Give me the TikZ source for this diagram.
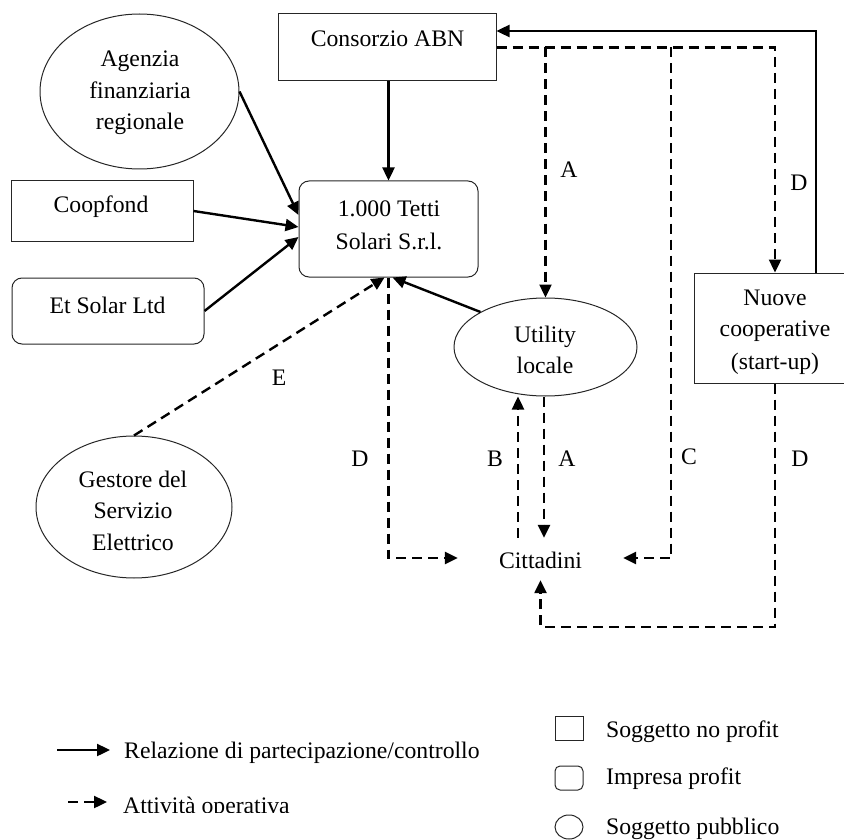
\documentclass[tikz,border=0pt]{standalone}
\usepackage{fontspec}
\setmainfont{Liberation Serif}
\usetikzlibrary{arrows.meta,shapes.geometric}
\newcommand{\mltext}[1]{\begin{tabular}[t]{@{}c@{}}#1\end{tabular}}
\begin{document}
\begin{tikzpicture}[x=1pt,y=-1pt,
  shp/.style={draw=black!85, line width=1pt, inner sep=0pt},
  nbox/.style={shp, rectangle},
  rbox/.style={shp, rectangle, rounded corners=10pt},
  ebox/.style={shp, ellipse},
  txt/.style={inner sep=0pt, anchor=base, font=\fontsize{23.7}{31.5}\selectfont},
  txtw/.style={txt, font=\fontsize{23.7}{33.5}\selectfont},
  rel/.style={line width=2.4pt, -{Triangle[length=13pt,width=12pt]}},
  op/.style={rel, dash pattern=on 10pt off 6pt},
  opline/.style={line width=2.4pt, dash pattern=on 10pt off 6pt}]
\useasboundingbox (0,0) rectangle (844,840);

% shapes
\node[nbox, minimum width=218pt, minimum height=67pt] (cons) at (387,47.5) {};
\node[rbox, minimum width=179pt, minimum height=96pt] (tetti) at (388.5,229) {};
\node[ebox, minimum width=199pt, minimum height=155pt] (agen) at (139.5,91.5) {};
\node[nbox, minimum width=182pt, minimum height=60pt] (coop) at (102,211) {};
\node[rbox, minimum width=192pt, minimum height=66pt] (etsol) at (108,311) {};
\node[ebox, minimum width=183pt, minimum height=98pt] (util) at (545.5,347) {};
\node[nbox, minimum width=162pt, minimum height=110pt] (nuove) at (775,328) {};
\node[ebox, minimum width=196pt, minimum height=142pt] (gest) at (134,507) {};

% texts
\node[txt] (consT) at (387.5,47) {Consorzio ABN};
\node[txtw] (tettiT) at (389,216) {\mltext{1.000 Tetti\\Solari S.r.l.}};
\node[txt] (agenT) at (140,67) {\mltext{Agenzia\\finanziaria\\regionale}};
\node[txt] (coopT) at (101,213) {Coopfond};
\node[txt] (etsolT) at (107.5,313) {Et Solar Ltd};
\node[txt] (utilT) at (545,342) {\mltext{Utility\\locale}};
\node[txtw, font=\fontsize{23.7}{32}\selectfont] (nuoveT) at (775,305) {\mltext{Nuove\\cooperative\\(start-up)}};
\node[txt] (gestT) at (133,487) {\mltext{Gestore del\\Servizio\\Elettrico}};
\node[txt, inner xsep=41pt, inner ysep=0pt, text height=30pt, text depth=12pt] (citt) at (540.5,568) {Cittadini};

% labels
\node[txt] (lA1) at (569,178) {A};
\node[txt] (lD1) at (799,190) {D};
\node[txt] (lE) at (279,385) {E};
\node[txt] (lD2) at (360,466) {D};
\node[txt] (lB) at (495,466) {B};
\node[txt] (lA2) at (567,466) {A};
\node[txt] (lC) at (689,464) {C};
\node[txt] (lD3) at (800,466) {D};

% helper coordinates
\coordinate (cturn) at (671,558);
\coordinate (dbot) at (775,627);
\coordinate (stop) at (816,31);

% solid relations
\draw[rel] (tetti.north |- cons.south) -- (tetti.north);
\draw[rel] (agen.east) -- ([yshift=14pt]tetti.west);
\draw[rel] (coop.east) -- ([yshift=2pt]tetti.west);
\draw[rel] (etsol.east) -- ([yshift=-8pt]tetti.west);
\draw[rel] (util.north west) -- ([xshift=4pt]tetti.south);
\draw[rel] (nuove.north -| stop) -- (stop) -- (stop -| cons.east);

% operative activities
\draw[op] (gest.north) -- ([xshift=-4pt]tetti.south);
\draw[op] (tetti.south) -- (tetti.south |- cturn) -- (cturn -| citt.west);
\draw[op] (cons.east) -- (cons.east -| nuove.north) -- (nuove.north);
\draw[op] (cons.east -| util.north) -- (util.north);
\draw[op] (cons.east -| cturn) -- (cturn) -- (cturn -| citt.east);
\draw[op] ([xshift=-1.5pt]util.south) -- ([xshift=-1.5pt]util.south |- citt.north);
\draw[op] ([xshift=-22.5pt]citt.north) -- ([xshift=-22.5pt]citt.north |- util.south);
\draw[op] (nuove.south) -- (nuove.south |- dbot) -- (citt.south |- dbot) -- (citt.south);

% legend
\coordinate (l1a) at (57,750);
\coordinate (l1b) at (110,750);
\coordinate (l2a) at (68,802);
\coordinate (l2b) at (107,802);
\draw[rel] (l1a) -- (l1b);
\draw[op] (l2a) -- (l2b);
\node[txt, anchor=base west] (legRel) at (124,758) {Relazione di partecipazione/controllo};
\begin{scope}
\clip (100,780) rectangle (420,812);
\node[txt, anchor=base west] (legOp) at (123,813) {Attività operativa};
\end{scope}
\node[nbox, minimum width=28pt, minimum height=24pt] (legNP) at (569,728) {};
\node[rbox, rounded corners=5pt, minimum width=28pt, minimum height=24pt] (legIP) at (569,778) {};
\node[ebox, minimum width=28pt, minimum height=24pt] (legSP) at (569,827) {};
\node[txt, anchor=base west] (legNPT) at (606,737) {Soggetto no profit};
\node[txt, anchor=base west] (legIPT) at (606,784) {Impresa profit};
\node[txt, anchor=base west] (legSPT) at (606,834) {Soggetto pubblico};
\end{tikzpicture}
\end{document}
